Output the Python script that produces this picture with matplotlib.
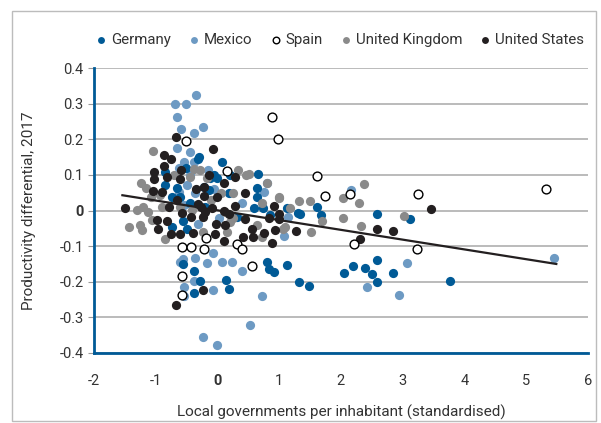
import matplotlib.pyplot as plt
from matplotlib.patches import Rectangle

plt.rcParams['font.family'] = ['Roboto', 'DejaVu Sans']

# data
germany_x = [-0.30, -0.32, 0.07, -0.06, -0.01, 0.66, 0.64, 0.74, 1.33, 1.61, 1.68, -0.85, -0.85,
             -0.66, -0.60, -0.74, -0.50, -0.74, -0.22, -0.13, 0.18, 0.31, 0.59, 0.85, 1.12, -0.12,
             -0.51, -0.45, -0.20, -0.55, 0.64, 0.20,
             -0.56, -0.38, -0.28, -0.38, 0.14, 0.18, 0.80, 0.83, 0.91, 1.12, 1.32, 1.48,
             2.59, 3.12, 2.05, 2.19, 2.39, 2.51, 2.59, 2.59, 2.84, 3.76, 1.31]
germany_y = [0.151, 0.144, 0.137, 0.099, 0.090, 0.102, 0.064, 0.006, -0.009, 0.010, -0.013, 0.109, 0.071,
             0.062, 0.038, 0.038, -0.051, -0.046, 0.066, 0.059, 0.048, -0.018, 0.006, -0.013, 0.006, 0.090,
             0.120, 0.020, 0.010, -0.030, 0.038, 0.100,
             -0.149, -0.170, -0.199, -0.232, -0.194, -0.220, -0.145, -0.163, -0.173, -0.154, -0.201, -0.212,
             -0.009, -0.024, -0.174, -0.156, -0.162, -0.177, -0.139, -0.201, -0.174, -0.198, -0.008]

mexico_x = [-0.69, -0.51, -0.35, -0.66, -0.59, -0.38, -0.24, -0.66, -0.45, -0.54, -0.38, -0.16, -0.50,
            -0.62, 0.76, -0.36, 0.80, 1.15, -0.31, -0.54, -0.45, -0.62, -0.05, 0.40, 0.03,
            -0.60, -0.56, -0.36, -0.17, -0.07, 0.07, 0.24, 0.40, -0.38, -0.54, -0.54, -0.08, 0.73,
            0.52, -0.24, -0.01, 1.08,
            2.16, 2.42, 2.94, 3.07, 5.45]
mexico_y = [0.299, 0.299, 0.324, 0.262, 0.230, 0.219, 0.236, 0.177, 0.165, 0.137, 0.137, 0.115, 0.071,
            0.052, 0.052, 0.048, 0.076, -0.018, -0.039, 0.015, 0.100, 0.120, 0.060, 0.020, -0.020,
            -0.145, -0.135, -0.132, -0.146, -0.119, -0.145, -0.145, -0.171, -0.199, -0.215, -0.241, -0.223, -0.241,
            -0.321, -0.354, -0.377, -0.072,
            0.059, -0.214, -0.237, -0.146, -0.134]

spain_x = [-0.57, -0.43, -0.57, -0.57, -0.22, -0.19, 0.31, 0.40, 0.56, -0.51, 0.15, 0.89, 0.98,
           1.61, 1.75, 2.15, 2.22, 3.23, 3.25, 5.33]
spain_y = [-0.102, -0.102, -0.184, -0.237, -0.109, -0.078, -0.093, -0.108, -0.157, 0.195, 0.110, 0.264, 0.200,
           0.096, 0.041, 0.046, -0.094, -0.108, 0.047, 0.060]

uk_x = [-1.05, -1.24, -1.16, -1.07, -1.20, -1.30, -1.44, -1.25, -1.23, -0.93, -0.90, -0.44, -0.38,
        -0.28, -0.17, 0.26, 0.34, 0.46, 0.51, 0.81, 1.00, 1.17, 1.32, 1.50, 1.52, 1.70, 0.64, 1.07,
        0.12, 0.26, 0.72, -0.41, -0.60, -1.06, -0.85, -1.12, -0.23, 0.15, 0.72, 0.21, 1.10, 0.99,
        -0.70, -0.10, 0.05,
        2.03, 2.37, 2.30, 2.03, 2.32, 3.03]
uk_y = [0.168, 0.076, 0.062, 0.038, 0.010, 0.001, -0.046, -0.041, -0.055, 0.043, 0.010, 0.095, 0.118,
        0.113, 0.090, 0.048, 0.113, 0.099, 0.104, 0.076, 0.034, 0.006, 0.027, 0.027, -0.060, -0.029, -0.041, -0.051,
        -0.004, -0.020, 0.020, 0.001, 0.010, -0.027, -0.079, -0.005, -0.060, -0.060, -0.074, -0.032, -0.046, 0.037,
        0.100, 0.030, 0.050,
        0.035, 0.075, 0.021, -0.020, -0.042, -0.015]

us_x = [-1.49, -0.67, -0.08, -0.86, -0.76, -0.86, -1.03, -1.03, -0.82, -0.59, -0.60, -1.05, -0.90,
        -0.22, -0.22, 0.11, 0.28, 0.44, -0.01, -0.31, -0.79, -0.58, -0.43, -0.82, -0.98, -0.97,
        -0.09, 0.10, 0.29, 0.12, -0.02, -0.24, 0.45, 0.56, 0.91, 1.00, 0.84, 0.76, 1.28, -0.76,
        -0.60, -0.39, -0.04, 0.42, 0.57, 0.11, 0.88, -0.23, -0.67, -0.26, -0.20, 0.18, 0.99, 0.94,
        -0.35, -0.65, -0.13,
        2.58, 2.85, 2.31, 3.46]
us_y = [0.008, 0.206, 0.172, 0.156, 0.144, 0.125, 0.107, 0.088, 0.095, 0.113, 0.088, 0.054, 0.052,
        0.066, 0.041, 0.078, 0.093, 0.048, 0.037, 0.018, 0.010, -0.008, -0.018, -0.029, -0.027, -0.051,
        0.006, -0.001, 0.013, -0.041, -0.037, -0.018, -0.023, -0.051, 0.013, -0.009, -0.020, -0.063, -0.057, -0.065,
        -0.065, -0.063, -0.067, -0.074, -0.074, -0.086, -0.091, -0.224, -0.264, 0.010, -0.005, -0.010, -0.023, -0.055,
        0.060, 0.030, 0.100,
        -0.051, -0.057, -0.079, 0.005]

# fitted trend line end points
trend_x = [-1.54, 5.49]
trend_y = [0.043, -0.150]

x_ticks = [-2, -1, 0, 1, 2, 3, 4, 5, 6]
y_ticks = [-0.4, -0.3, -0.2, -0.1, 0, 0.1, 0.2, 0.3, 0.4]
x_labels = ['-2', '-1', '0', '1', '2', '3', '4', '5', '6']
y_labels = ['-0.4', '-0.3', '-0.2', '-0.1', '0', '0.1', '0.2', '0.3', '0.4']

blue = '#005a96'
light = '#6d9ac3'
grey = '#8a8a8a'
black = '#231f20'

fig = plt.figure(figsize=(6.01, 4.23), dpi=100)
ax = fig.add_axes([0.1564, 0.1655, 0.8216, 0.6735])

fig.patches.append(Rectangle((0.02, 0.004), 0.972, 0.97, transform=fig.transFigure,
                             fill=False, edgecolor='#bcbcbc', linewidth=1))

s = 44
ax.scatter(mexico_x, mexico_y, s=s, color=light, linewidths=0, label='Mexico', zorder=3)
ax.scatter(germany_x, germany_y, s=s, color=blue, linewidths=0, label='Germany', zorder=3)
ax.scatter(uk_x, uk_y, s=s, color=grey, linewidths=0, label='United Kingdom', zorder=3)
ax.scatter(us_x, us_y, s=s, color=black, linewidths=0, label='United States', zorder=3)
ax.scatter(spain_x, spain_y, s=40, facecolor='white', edgecolor='black', linewidths=1.0,
           label='Spain', zorder=4)
ax.plot(trend_x, trend_y, color=black, lw=1.6, zorder=5)

ax.set_xlim(-2, 6)
ax.set_ylim(-0.4, 0.4)
ax.set_xticks(x_ticks)
ax.set_xticklabels(x_labels)
ax.set_yticks(y_ticks)
ax.set_yticklabels(y_labels)
ax.tick_params(axis='x', length=0, pad=15, labelsize=10.5, colors='#333333')
ax.tick_params(axis='y', length=4, color='#999999', labelsize=10.5, labelcolor='#333333')
for lab in ax.get_xticklabels() + ax.get_yticklabels():
    if lab.get_text() == '0':
        lab.set_fontweight('bold')

ax.grid(axis='y', color='#a8a8a8', lw=1.1, zorder=0)
ax.set_axisbelow(True)
for side in ['top', 'right']:
    ax.spines[side].set_visible(False)
for side in ['left', 'bottom']:
    ax.spines[side].set_color(blue)
    ax.spines[side].set_linewidth(2)

ax.set_xlabel('Local governments per inhabitant (standardised)', fontsize=11, color='#333333', labelpad=12)
ax.set_ylabel('Productivity differential, 2017', fontsize=11, color='#333333', labelpad=17)

handles, labels = ax.get_legend_handles_labels()
order = ['Germany', 'Mexico', 'Spain', 'United Kingdom', 'United States']
hl = dict(zip(labels, handles))
fig.legend([hl[k] for k in order], order, loc='center', bbox_to_anchor=(0.566, 0.905),
           ncol=5, frameon=False, fontsize=10.8, handlelength=0.7, handletextpad=0.3,
           columnspacing=1.2, markerscale=0.75, labelcolor='#333333')

fig.savefig('out.png', dpi=100)
